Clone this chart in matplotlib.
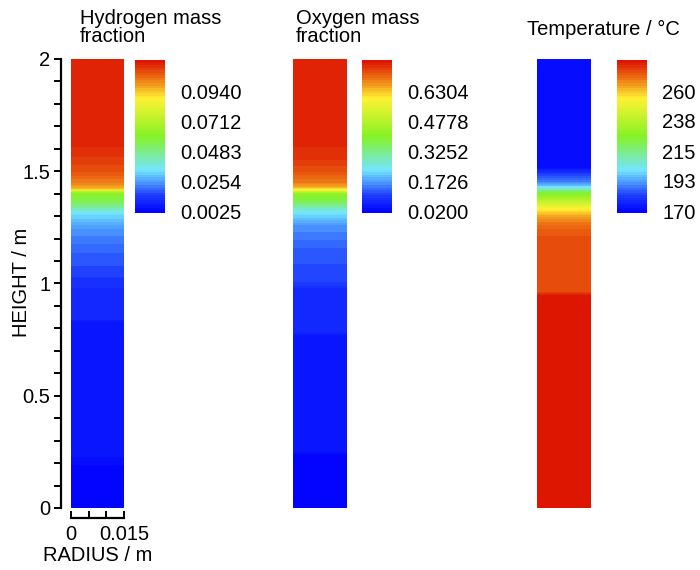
import numpy as np
import matplotlib.pyplot as plt
from matplotlib.colors import LinearSegmentedColormap

plt.rcParams['font.family'] = ['Liberation Sans', 'DejaVu Sans']
FS = 14.5

# 高度剖面（沿柱体高度读出的数值）, m
h_H2 = [0.0, 0.22, 0.23, 0.83, 0.84, 1.02, 1.03, 1.15, 1.24, 1.31, 1.36, 1.40, 1.412, 1.42,
        1.45, 1.50, 1.55, 1.62, 2.0]
H2 = [0.0025, 0.0030, 0.0060, 0.0068, 0.0100, 0.0110, 0.0150, 0.0190, 0.0240, 0.0330, 0.0530, 0.0610,
      0.0740, 0.0960, 0.1030, 0.1090, 0.1120, 0.1150, 0.1160]

h_O2 = [0.0, 0.24, 0.25, 0.77, 0.78, 0.98, 1.0, 1.15, 1.26, 1.32, 1.36, 1.40, 1.415, 1.43,
        1.45, 1.50, 1.55, 1.62, 2.0]
O2 = [0.015, 0.018, 0.040, 0.045, 0.065, 0.075, 0.100, 0.125, 0.165, 0.240, 0.360, 0.415,
      0.574, 0.650, 0.690, 0.730, 0.755, 0.770, 0.777]

h_T = [0.0, 0.95, 0.96, 1.20, 1.25, 1.29, 1.32, 1.34, 1.37, 1.40, 1.41, 1.425, 1.45, 1.49, 1.52, 2.0]
T = [282.5, 282.5, 276.0, 275.0, 272.0, 266.5, 258.5, 251.5, 238.0, 226.0, 220.0, 203.0, 190.0,
     181.0, 171.0, 171.0]

# 色标范围与刻度
H2_range = (0.00098, 0.1184)
O2_range = (0.0098, 0.7932)
T_range = (168.5, 284.0)
H2_ticks = [0.0025, 0.0254, 0.0483, 0.0712, 0.0940]
O2_ticks = [0.0200, 0.1726, 0.3252, 0.4778, 0.6304]
T_ticks = [170, 193, 215, 238, 260]
H2_labels = ['0.0025', '0.0254', '0.0483', '0.0712', '0.0940']
O2_labels = ['0.0200', '0.1726', '0.3252', '0.4778', '0.6304']
T_labels = ['170', '193', '215', '238', '260']

R_max = 0.015
H_max = 2.0

cmap = LinearSegmentedColormap.from_list('fluent', [
    (0.0, (0.0, 0.0, 1.0)),
    (0.12, (0.12, 0.25, 1.0)),
    (0.2, (0.3, 0.6, 1.0)),
    (0.28, (0.45, 0.9, 1.0)),
    (0.5, (0.52, 0.95, 0.15)),
    (0.75, (1.0, 0.95, 0.2)),
    (0.88, (0.93, 0.45, 0.08)),
    (1.0, (0.86, 0.06, 0.0)),
])

fig = plt.figure(figsize=(7, 5.7), dpi=100)

r = np.linspace(0, R_max, 20)
hh = np.linspace(0, H_max, 800)
RR, HH = np.meshgrid(r, hh)


def field_panel(col_rect, cb_rect, h, v, vrange, ticks, labels, axis_on=False):
    ax = fig.add_axes(col_rect)
    Z = np.interp(HH, h, v)
    levels = np.linspace(vrange[0], vrange[1], 61)
    cs = ax.contourf(RR, HH, np.clip(Z, vrange[0], vrange[1]), levels=levels, cmap=cmap)
    ax.set_xlim(0, R_max)
    ax.set_ylim(0, H_max)
    if not axis_on:
        ax.axis('off')
    cax = fig.add_axes(cb_rect)
    cb = fig.colorbar(cs, cax=cax, ticks=ticks)
    cb.ax.set_yticklabels(labels)
    cb.ax.tick_params(length=0, pad=11, labelsize=FS)
    cb.outline.set_visible(False)
    return ax


ax1 = field_panel([0.1014, 0.1088, 0.0757, 0.7877], [0.1929, 0.6263, 0.0429, 0.2684],
                  h_H2, H2, H2_range, H2_ticks, H2_labels, axis_on=True)
field_panel([0.4186, 0.1088, 0.0771, 0.7877], [0.5171, 0.6263, 0.0429, 0.2684],
            h_O2, O2, O2_range, O2_ticks, O2_labels)
field_panel([0.767, 0.1088, 0.0771, 0.7877], [0.8814, 0.6263, 0.0429, 0.2684],
            h_T, T, T_range, T_ticks, T_labels)

# 坐标轴样式
for s in ['top', 'right']:
    ax1.spines[s].set_visible(False)
ax1.spines['left'].set_position(('outward', 7))
ax1.spines['bottom'].set_position(('outward', 7))
ax1.spines['left'].set_linewidth(1.6)
ax1.spines['bottom'].set_linewidth(1.6)
ax1.set_yticks([0, 0.5, 1, 1.5, 2])
ax1.set_yticklabels(['0', '0.5', '1', '1.5', '2'])
ax1.set_yticks(np.arange(0, 2.01, 0.1), minor=True)
ax1.set_xticks([0, 0.015])
ax1.set_xticklabels(['0', '0.015'])
ax1.set_xticks([0.005, 0.01], minor=True)
ax1.tick_params(axis='y', which='both', direction='out', length=5, width=1.4, labelsize=FS, pad=3)
ax1.tick_params(axis='x', which='both', direction='in', length=5, width=1.4, labelsize=FS, pad=5)

fig.text(0.031, 0.504, 'HEIGHT / m', rotation=90, ha='center', va='center', fontsize=FS)
fig.text(0.14, 0.026, 'RADIUS / m', ha='center', va='center', fontsize=FS)

fig.text(0.114, 0.985, 'Hydrogen mass\nfraction', ha='left', va='top', fontsize=FS, linespacing=0.95)
fig.text(0.423, 0.985, 'Oxygen mass\nfraction', ha='left', va='top', fontsize=FS, linespacing=0.95)
fig.text(0.753, 0.965, 'Temperature / °C', ha='left', va='top', fontsize=FS)

fig.savefig('out.png', dpi=100)
